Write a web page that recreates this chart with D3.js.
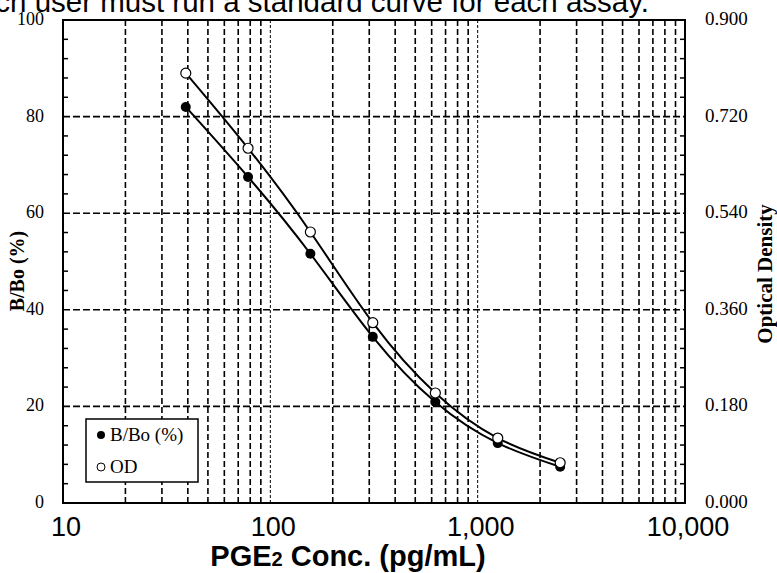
<!DOCTYPE html>
<html>
<head>
<meta charset="utf-8">
<script src="https://cdn.jsdelivr.net/npm/d3@7"></script>
<style>
  body { margin: 0; background: #fff; }
  svg { display: block; }
</style>
</head>
<body>
<script>
// Standard curve data
const conc = [39.1, 78.1, 156, 312, 625, 1250, 2500];
const bbo = [82.0, 67.5, 51.6, 34.4, 20.9, 12.4, 7.5];
const od = [0.801, 0.661, 0.505, 0.336, 0.205, 0.121, 0.075];
const xTicks = [10, 100, 1000, 10000];
const yTicks = [0, 20, 40, 60, 80, 100];
const odTicks = [0, 0.18, 0.36, 0.54, 0.72, 0.9];

let width = 777, height = 573;
let margin = { top: 20, bottom: 70, left: 63, right: 92 };

let svg = d3.select('body')
            .append('svg')
            .attr('width', width)
            .attr('height', height);

const x = d3.scaleLog()
    .domain([10, 10000])
    .range([margin.left, width - margin.right]);

const y = d3.scaleLinear()
    .domain([0, 100])
    .range([height - margin.bottom, margin.top]);

const yOD = d3.scaleLinear()
    .domain([0, 0.9])
    .range([height - margin.bottom, margin.top]);

// cut-off caption at the top (left end runs off the page, as in the source)
svg.append('text')
   .attr('x', 649)
   .attr('y', 12)
   .attr('text-anchor', 'end')
   .style('font-family', 'Liberation Sans, Arial, sans-serif')
   .style('font-size', '29.5px')
   .text('Each user must run a standard curve for each assay.');

// vertical grid lines (log minors)
const minors = [];
[10, 100, 1000].forEach(dec => {
    for (let k = 1; k < 10; k++) {
        if (k === 1 && dec === 10) continue;
        minors.push(dec * k);
    }
});
svg.append('g')
   .selectAll('line')
   .data(minors)
   .enter()
   .append('line')
   .attr('x1', d => x(d))
   .attr('x2', d => x(d))
   .attr('y1', y(100))
   .attr('y2', y(0))
   .attr('stroke', '#000')
   .attr('stroke-width', d => (d === 100 || d === 1000) ? 1 : 1.6)
   .attr('stroke-dasharray', d => (d === 100 || d === 1000) ? '3,2' : '6,3');

// horizontal grid lines
svg.append('g')
   .selectAll('line')
   .data([20, 40, 60, 80])
   .enter()
   .append('line')
   .attr('x1', x(10))
   .attr('x2', x(10000))
   .attr('y1', d => y(d))
   .attr('y2', d => y(d))
   .attr('stroke', '#000')
   .attr('stroke-width', 1.6)
   .attr('stroke-dasharray', '7,3');

// minor ticks on left and right, pointing in
const minorY = d3.range(0, 101, 4).filter(d => d % 20 !== 0);
svg.append('g')
   .selectAll('line')
   .data(minorY)
   .enter()
   .append('line')
   .attr('x1', x(10))
   .attr('x2', x(10) + 5)
   .attr('y1', d => y(d))
   .attr('y2', d => y(d))
   .attr('stroke', '#000')
   .attr('stroke-width', 1.5);
svg.append('g')
   .selectAll('line')
   .data(minorY)
   .enter()
   .append('line')
   .attr('x1', x(10000))
   .attr('x2', x(10000) - 5)
   .attr('y1', d => y(d))
   .attr('y2', d => y(d))
   .attr('stroke', '#000')
   .attr('stroke-width', 1.5);

// plot border
svg.append('rect')
   .attr('x', x(10))
   .attr('y', y(100))
   .attr('width', x(10000) - x(10))
   .attr('height', y(0) - y(100))
   .attr('fill', 'none')
   .attr('stroke', '#000')
   .attr('stroke-width', 2);

// left tick labels
svg.append('g')
   .selectAll('text')
   .data(yTicks)
   .enter()
   .append('text')
   .attr('x', 44)
   .attr('y', d => y(d) + 5)
   .attr('text-anchor', 'end')
   .style('font-family', 'Liberation Serif, Times New Roman, serif')
   .style('font-size', '18px')
   .text(d => d);

// right tick labels
svg.append('g')
   .selectAll('text')
   .data(odTicks)
   .enter()
   .append('text')
   .attr('x', 705)
   .attr('y', d => yOD(d) + 5)
   .style('font-family', 'Liberation Serif, Times New Roman, serif')
   .style('font-size', '19px')
   .text(d => d3.format('.3f')(d));

// bottom tick labels
svg.append('g')
   .selectAll('text')
   .data(xTicks)
   .enter()
   .append('text')
   .attr('x', d => x(d) + 3)
   .attr('y', 536)
   .attr('text-anchor', 'middle')
   .style('font-family', 'Liberation Sans, Arial, sans-serif')
   .style('font-size', '27px')
   .text(d => d3.format(',')(d));

// x-label
const xl = svg.append('text')
   .attr('x', 348)
   .attr('y', 566)
   .attr('text-anchor', 'middle')
   .style('font-family', 'Liberation Sans, Arial, sans-serif')
   .style('font-size', '29px')
   .style('font-weight', 'bold');
xl.append('tspan').text('PGE');
xl.append('tspan').style('font-size', '20px').text('2');
xl.append('tspan').text(' Conc. (pg/mL)');

// y-labels
svg.append('text')
   .attr('transform', `translate(24, 271) rotate(-90)`)
   .attr('text-anchor', 'middle')
   .style('font-family', 'Liberation Serif, Times New Roman, serif')
   .style('font-size', '20px')
   .style('font-weight', 'bold')
   .text('B/Bo (%)');

svg.append('text')
   .attr('transform', `translate(772, 274) rotate(-90)`)
   .attr('text-anchor', 'middle')
   .style('font-family', 'Liberation Serif, Times New Roman, serif')
   .style('font-size', '21px')
   .style('font-weight', 'bold')
   .text('Optical Density');

// curves
const bboData = conc.map((c, i) => ({ c, v: y(bbo[i]) }));
const odData = conc.map((c, i) => ({ c, v: yOD(od[i]) }));

const line = d3.line()
    .x(d => x(d.c))
    .y(d => d.v)
    .curve(d3.curveNatural);

svg.append('path')
   .datum(bboData)
   .attr('fill', 'none')
   .attr('stroke', '#000')
   .attr('stroke-width', 2)
   .attr('d', line);

svg.append('path')
   .datum(odData)
   .attr('fill', 'none')
   .attr('stroke', '#000')
   .attr('stroke-width', 2)
   .attr('d', line);

svg.selectAll('circle.bbo')
   .data(bboData)
   .enter()
   .append('circle')
   .attr('class', 'bbo')
   .attr('cx', d => x(d.c))
   .attr('cy', d => d.v)
   .attr('r', 5)
   .attr('fill', '#000');

svg.selectAll('circle.od')
   .data(odData)
   .enter()
   .append('circle')
   .attr('class', 'od')
   .attr('cx', d => x(d.c))
   .attr('cy', d => d.v)
   .attr('r', 5)
   .attr('fill', '#fff')
   .attr('stroke', '#000')
   .attr('stroke-width', 1.2);

// legend
const legend = svg.append('g').attr('transform', 'translate(86, 419)');
legend.append('rect')
      .attr('width', 112)
      .attr('height', 63)
      .attr('fill', '#fff')
      .attr('stroke', '#000')
      .attr('stroke-width', 1.5);
legend.append('circle')
      .attr('cx', 15).attr('cy', 16).attr('r', 4)
      .attr('fill', '#000');
legend.append('circle')
      .attr('cx', 15).attr('cy', 48).attr('r', 4)
      .attr('fill', '#fff').attr('stroke', '#000');
legend.append('text')
      .attr('x', 24).attr('y', 22)
      .style('font-family', 'Liberation Serif, Times New Roman, serif')
      .style('font-size', '19px')
      .text('B/Bo (%)');
legend.append('text')
      .attr('x', 24).attr('y', 54)
      .style('font-family', 'Liberation Serif, Times New Roman, serif')
      .style('font-size', '19px')
      .text('OD');
</script>
</body>
</html>
